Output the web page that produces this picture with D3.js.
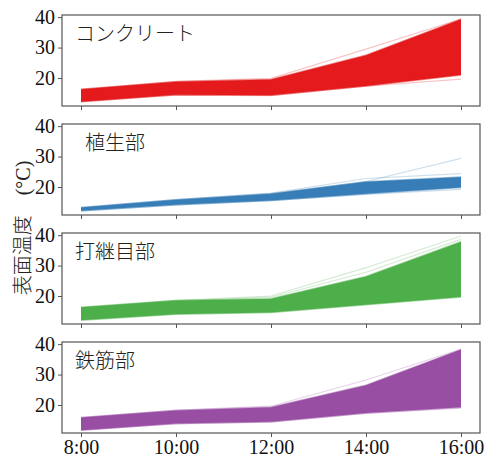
<!DOCTYPE html>
<html>
<head>
<meta charset="utf-8">
<script src="https://cdn.jsdelivr.net/npm/d3@7"></script>
<style>
  body { margin: 0; background: #fff; }
  text { font-family: "Liberation Serif", "Noto Sans CJK JP", serif; }
</style>
</head>
<body>
<div id="chart"></div>
<script>
////// surface temperature spaghetti panels
var width = 487,
    height = 457;

// data
var hours = [8, 10, 12, 14, 16];
var tickLabels = ["8:00", "10:00", "12:00", "14:00", "16:00"];
var yTicks = [20, 30, 40];
var panelNames = ["コンクリート", "植生部", "打継目部", "鉄筋部"];
var colors = ["#e41a1c", "#377eb8", "#4daf4a", "#984ea3"];

var concreteLow  = [12.2, 14.5, 14.3, 17.4, 21.0];
var concreteHigh = [16.3, 18.8, 19.5, 27.5, 39.3];
var concreteFaint = [
    [16.2, 18.9, 19.9, 29.5, 39.4],
    [12.3, 14.4, 14.2, 17.3, 19.6]
];

var vegLow  = [12.2, 14.2, 15.6, 17.8, 19.8];
var vegHigh = [13.3, 15.8, 17.8, 21.7, 23.3];
var vegFaint = [
    [13.2, 15.9, 18.0, 22.8, 24.4],
    [12.1, 14.0, 15.5, 17.6, 19.2],
    [13.0, 15.5, 17.6, 21.8, 29.4]
];

var jointLow  = [12.0, 14.0, 14.6, 17.1, 19.7];
var jointHigh = [16.3, 18.5, 19.1, 26.4, 37.8];
var jointFaint = [
    [16.2, 18.6, 20.0, 29.3, 39.7],
    [16.0, 18.4, 19.6, 27.8, 38.6]
];

var rebarLow  = [11.7, 13.9, 14.5, 17.4, 19.3];
var rebarHigh = [15.9, 18.2, 19.3, 26.5, 38.2];
var rebarFaint = [
    [15.8, 18.3, 19.6, 28.2, 38.3],
    [11.8, 13.8, 14.4, 17.2, 19.0]
];

var bandLows = [concreteLow, vegLow, jointLow, rebarLow];
var bandHighs = [concreteHigh, vegHigh, jointHigh, rebarHigh];
var faintLines = [concreteFaint, vegFaint, jointFaint, rebarFaint];

// layout
var left = 62, right = 480,
    panelTop = 15, panelStep = 109, panelHeight = 91;

var svg = d3.select("#chart")
    .append("svg")
    .attr("width", width)
    .attr("height", height);

var x = d3.scaleLinear()
    .domain([7.6, 16.4])
    .range([left, right]);

var y = d3.scaleLinear()
    .domain([10.8, 40.7])
    .range([panelHeight, 0]);

var area = d3.area()
    .x((d) => x(d.h))
    .y0((d) => y(d.lo))
    .y1((d) => y(d.hi));

var line = d3.line()
    .x((d, i) => x(hours[i]))
    .y((d) => y(d));

panelNames.forEach(function (name, p) {
    var g = svg.append("g")
        .attr("transform", "translate(0," + (panelTop + p * panelStep) + ")");

    var band = hours.map(function (h, i) {
        return { h: h, lo: bandLows[p][i], hi: bandHighs[p][i] };
    });

    // faint outer lines
    g.selectAll(".faint")
        .data(faintLines[p])
        .enter()
        .append("path")
        .attr("d", line)
        .attr("fill", "none")
        .attr("stroke", colors[p])
        .attr("stroke-opacity", 0.25)
        .attr("stroke-width", 1.2);

    // dense bundle of lines -> solid band
    g.append("path")
        .datum(band)
        .attr("d", area)
        .attr("fill", colors[p]);

    // soften band edges
    g.selectAll(".edge")
        .data([bandLows[p], bandHighs[p]])
        .enter()
        .append("path")
        .attr("d", line)
        .attr("fill", "none")
        .attr("stroke", colors[p])
        .attr("stroke-opacity", 0.5)
        .attr("stroke-width", 1.5);

    // frame
    g.append("rect")
        .attr("x", left)
        .attr("y", 0)
        .attr("width", right - left)
        .attr("height", panelHeight)
        .attr("fill", "none")
        .attr("stroke", "#555")
        .attr("stroke-width", 1.2);

    // y axis
    var yAxis = g.append("g")
        .attr("transform", "translate(" + left + ",0)")
        .call(d3.axisLeft(y).tickValues(yTicks).tickSize(4).tickPadding(3).tickFormat(d3.format("d")));
    yAxis.select(".domain").remove();
    yAxis.selectAll("line").attr("stroke", "#555");
    yAxis.selectAll("text")
        .attr("font-size", 20)
        .attr("fill", "#111")
        .attr("font-family", "Liberation Serif, serif");

    // x axis
    var xAxis = g.append("g")
        .attr("transform", "translate(0," + panelHeight + ")")
        .call(d3.axisBottom(x).tickValues(hours).tickSize(4).tickPadding(3)
            .tickFormat((d, i) => p === panelNames.length - 1 ? tickLabels[i] : ""));
    xAxis.select(".domain").remove();
    xAxis.selectAll("line").attr("stroke", "#555");
    xAxis.selectAll("text")
        .attr("font-size", 20)
        .attr("fill", "#111")
        .attr("font-family", "Liberation Serif, serif");

    // panel title
    g.append("text")
        .attr("x", p === 1 ? 85 : 75)
        .attr("y", 26)
        .attr("font-size", 20)
        .attr("fill", "#222")
        .attr("font-family", "Noto Sans CJK JP, sans-serif")
        .attr("font-weight", 300)
        .text(name);
});

// shared y label
svg.append("text")
    .attr("transform", "translate(30,228) rotate(-90)")
    .attr("text-anchor", "middle")
    .attr("font-size", 20)
    .attr("font-weight", 300)
    .attr("fill", "#222")
    .text("表面温度\u3000(°C)");
</script>
</body>
</html>
